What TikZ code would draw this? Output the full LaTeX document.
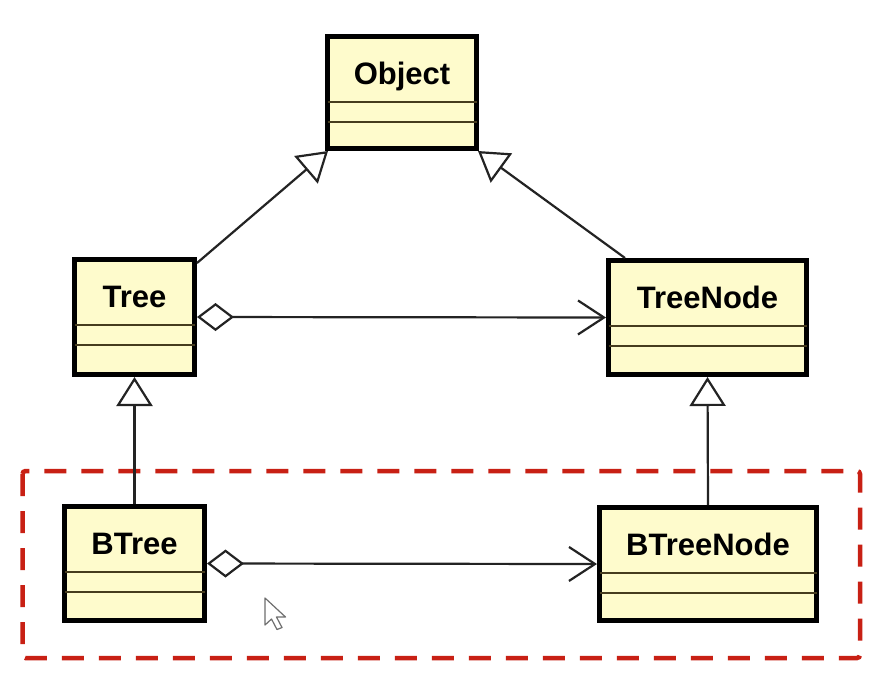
\documentclass[tikz,border=0pt]{standalone}
\usepackage{fontspec}
\setmainfont{Liberation Sans}
\usetikzlibrary{arrows.meta}
\definecolor{umlfill}{RGB}{254,251,204}
\definecolor{umldiv}{RGB}{70,60,30}
\definecolor{dashred}{RGB}{200,32,20}
\definecolor{conn}{RGB}{35,35,35}
\definecolor{cursorgray}{RGB}{110,110,110}
\tikzset{
  umlbox/.style={draw=black, line width=5pt, fill=umlfill, inner sep=0pt},
  umltext/.style={font=\fontsize{31}{37}\selectfont\bfseries, inner sep=0pt, anchor=base},
  divline/.style={draw=umldiv, line width=2pt},
  connline/.style={draw=conn, line width=2.2pt},
  genarrow/.style={connline, -{Triangle[open, length=29pt, width=36pt, line width=2.2pt]}},
  aggarrow/.style={connline, {Diamond[open, length=37pt, width=28pt, line width=2.2pt]}-{Straight Barb[length=26pt, width=34pt, line width=2.2pt]}},
  groupframe/.style={draw=dashred, line width=4.5pt, dash pattern=on 22pt off 15pt, rounded corners=3pt},
}
\newcommand\umlclass[6]{% name, x, y, inner width, inner height, text
  \node[umlbox, minimum width=#4, minimum height=#5] (#1) at (#2,#3) {};
  \node[umltext] (#1-name) at ([yshift=-50.5pt]#1.north) {#6};
  \draw[divline] ([xshift=2.5pt,yshift=-67.5pt]#1.north west) -- ([xshift=-2.5pt,yshift=-67.5pt]#1.north east);
  \draw[divline] ([xshift=2.5pt,yshift=-88pt]#1.north west) -- ([xshift=-2.5pt,yshift=-88pt]#1.north east);
}
\begin{document}
\begin{tikzpicture}[x=1pt,y=-1pt]
  \fill[white] (0,0) rectangle (890,678);
  \useasboundingbox (0,0) rectangle (890,678);

  % group frame
  \draw[groupframe] (22.5,471) rectangle (860,658);

  % classes
  \umlclass{obj}{402}{92.5}{149}{112}{Object}
  \umlclass{tree}{134.5}{317}{120}{115}{Tree}
  \umlclass{treenode}{707.5}{317.5}{198}{114}{TreeNode}
  \umlclass{btree}{134.5}{563.5}{140}{114}{BTree}
  \umlclass{btreenode}{708}{564}{217}{113}{BTreeNode}

  % generalizations
  \draw[genarrow] ([yshift=-6pt]tree.north east) -- ([xshift=3pt]obj.south west);
  \draw[genarrow] ([xshift=19pt]treenode.north west) -- ([xshift=-1pt]obj.south east);
  \draw[genarrow] (btree.north) -- (tree.south);
  \draw[genarrow] (btreenode.north) -- (treenode.south);

  % aggregations
  \draw[aggarrow] (tree.east) -- (treenode.west);
  \draw[aggarrow] (btree.east) -- (btreenode.west);

  % mouse cursor
  \draw[fill=white, draw=cursorgray, line width=1.2pt, line join=round]
    (265,598) -- ++(0,27) -- ++(6.5,-6) -- ++(5.5,10.5) -- ++(5,-2) -- ++(-5.5,-10.5) -- ++(9,0) -- cycle;
\end{tikzpicture}
\end{document}
